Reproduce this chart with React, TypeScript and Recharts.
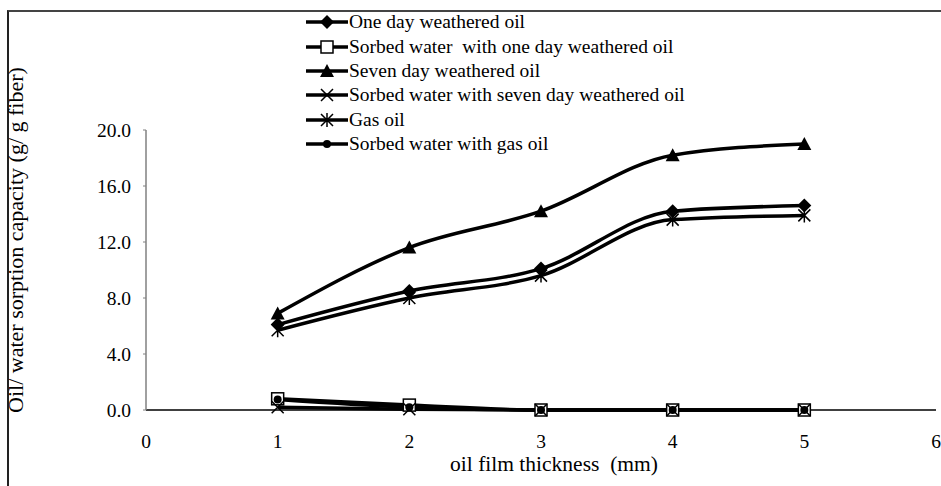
import React from 'react';
import { LineChart, Line, XAxis, YAxis } from 'recharts';

// oil film thickness (mm)
const thickness = [1, 2, 3, 4, 5];

// sorption capacity (g/g fiber)
const oneDayOil = [6.1, 8.5, 10.1, 14.2, 14.6];
const sorbedWaterOneDay = [0.8, 0.35, 0, 0, 0];
const sevenDayOil = [6.9, 11.6, 14.2, 18.2, 19.0];
const sorbedWaterSevenDay = [0.2, 0.05, 0, 0, 0];
const gasOil = [5.7, 8.0, 9.6, 13.6, 13.9];
const sorbedWaterGasOil = [0.75, 0.2, 0, 0, 0];

const yTicks = [0, 4, 8, 12, 16, 20];
const xTicks = [0, 1, 2, 3, 4, 5, 6];

const FONT = '"Liberation Serif", "Times New Roman", serif';

type MarkerKind = 'diamond' | 'square' | 'triangle' | 'cross' | 'star' | 'circle';

const series: { key: string; name: string; marker: MarkerKind }[] = [
  { key: 'oneDay', name: 'One day weathered oil', marker: 'diamond' },
  { key: 'sorbedOneDay', name: 'Sorbed water  with one day weathered oil', marker: 'square' },
  { key: 'sevenDay', name: 'Seven day weathered oil', marker: 'triangle' },
  { key: 'sorbedSevenDay', name: 'Sorbed water with seven day weathered oil', marker: 'cross' },
  { key: 'gas', name: 'Gas oil', marker: 'star' },
  { key: 'sorbedGas', name: 'Sorbed water with gas oil', marker: 'circle' },
];

const data = thickness.map((t, i) => ({
  t,
  oneDay: oneDayOil[i],
  sorbedOneDay: sorbedWaterOneDay[i],
  sevenDay: sevenDayOil[i],
  sorbedSevenDay: sorbedWaterSevenDay[i],
  gas: gasOil[i],
  sorbedGas: sorbedWaterGasOil[i],
}));

// draw a marker centred on cx, cy
const Marker = ({ kind, cx, cy }: { kind: MarkerKind; cx: number; cy: number }) => {
  switch (kind) {
    case 'diamond':
      return <path d={`M${cx},${cy - 7}L${cx + 7},${cy}L${cx},${cy + 7}L${cx - 7},${cy}Z`} fill="#000" />;
    case 'square':
      return <rect x={cx - 6} y={cy - 6} width={12} height={12} fill="#fff" stroke="#000" strokeWidth={1.5} />;
    case 'triangle':
      return <path d={`M${cx},${cy - 7}L${cx + 7},${cy + 6}L${cx - 7},${cy + 6}Z`} fill="#000" />;
    case 'cross':
      return (
        <path
          d={`M${cx - 6},${cy - 6}L${cx + 6},${cy + 6}M${cx + 6},${cy - 6}L${cx - 6},${cy + 6}`}
          stroke="#000"
          strokeWidth={1.5}
        />
      );
    case 'star':
      return (
        <path
          d={`M${cx - 6},${cy - 6}L${cx + 6},${cy + 6}M${cx + 6},${cy - 6}L${cx - 6},${cy + 6}M${cx},${cy - 7}L${cx},${cy + 7}`}
          stroke="#000"
          strokeWidth={1.5}
        />
      );
    default:
      return <circle cx={cx} cy={cy} r={4} fill="#000" />;
  }
};

const renderDot = (kind: MarkerKind) => (props: any) => {
  const { cx, cy, index } = props;
  if (cx == null || cy == null) return <g key={index} />;
  return (
    <g key={`${kind}-${index}`}>
      <Marker kind={kind} cx={cx} cy={cy} />
    </g>
  );
};

const ChartLegend = () => (
  <div style={{ position: 'absolute', left: 306, top: 10, fontFamily: FONT, fontSize: 19.5, color: '#000' }}>
    {series.map((s) => (
      <div key={s.key} style={{ display: 'flex', alignItems: 'center', height: 24.4, whiteSpace: 'pre' }}>
        <svg width={42} height={16} style={{ marginRight: 1 }}>
          <line x1={0} y1={8} x2={42} y2={8} stroke="#000" strokeWidth={3.5} />
          <Marker kind={s.marker} cx={21} cy={8} />
        </svg>
        <span>{s.name}</span>
      </div>
    ))}
  </div>
);

const App: React.FC = () => {
  return (
    <div style={{ position: 'absolute', left: 0, top: 0, width: 941, height: 486, background: '#fff', fontFamily: FONT }}>
      <div
        style={{
          position: 'absolute',
          left: 7,
          top: 10,
          width: 940,
          height: 480,
          borderTop: '2px solid #444',
          borderLeft: '2px solid #222',
        }}
      />
      <LineChart
        width={941}
        height={486}
        data={data}
        margin={{ top: 130, right: 5, bottom: 0, left: 0 }}
        style={{ position: 'absolute', left: 0, top: 0, fontFamily: FONT }}
      >
        <XAxis
          dataKey="t"
          type="number"
          domain={[0, 6]}
          ticks={xTicks}
          height={76}
          axisLine={{ stroke: '#000', strokeWidth: 1.5 }}
          tickLine={false}
          tickMargin={18}
          tick={{ fill: '#000', fontSize: 19.5, fontFamily: FONT }}
          label={{
            content: () => (
              <text x={554} y={471} textAnchor="middle" fontSize={21.5} fontFamily={FONT} fill="#000" style={{ whiteSpace: 'pre' }}>
                oil film thickness  (mm)
              </text>
            ),
          }}
        />
        <YAxis
          type="number"
          domain={[0, 20]}
          ticks={yTicks}
          width={146}
          axisLine={{ stroke: '#808080', strokeWidth: 1.5 }}
          tickLine={{ stroke: '#808080' }}
          tickSize={3}
          tickMargin={12}
          tickFormatter={(v: number) => v.toFixed(1)}
          tick={{ fill: '#000', fontSize: 19.5, fontFamily: FONT }}
          label={{
            content: () => (
              <text
                x={23}
                y={240}
                transform="rotate(-90 23 240)"
                textAnchor="middle"
                fontSize={22}
                fontFamily={FONT}
                fill="#000"
              >
                Oil/ water sorption capacity (g/ g fiber)
              </text>
            ),
          }}
        />
        {series.map((s) => (
          <Line
            key={s.key}
            dataKey={s.key}
            name={s.name}
            type="monotone"
            stroke="#000"
            strokeWidth={3.5}
            dot={renderDot(s.marker)}
            activeDot={false}
            isAnimationActive={false}
          />
        ))}
      </LineChart>
      <ChartLegend />
    </div>
  );
};

export default App;
